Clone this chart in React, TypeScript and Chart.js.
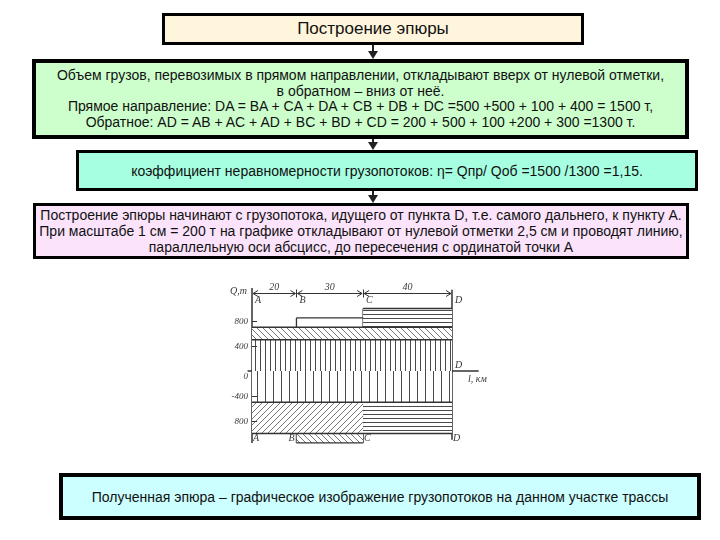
import React, { useEffect, useRef } from 'react';
import { Chart, registerables } from 'chart.js';

Chart.register(...registerables);

// ---- data (km along the route, tonnes of freight) ----
const stationNames = ['A', 'B', 'C', 'D'];
const stationKm = [0, 20, 50, 90];
const segmentLabels = ['20', '30', '40'];

// forward direction (drawn upward from zero)
const fwdFrom = [0, 0, 20, 50];
const fwdTo = [90, 90, 50, 90];
const fwdBase = [0, 500, 700, 700];
const fwdTop = [500, 700, 850, 1000];

// reverse direction (drawn downward from zero)
const revFrom = [0, 0, 50, 20];
const revTo = [90, 50, 90, 50];
const revBase = [0, -500, -500, -1000];
const revTop = [-500, -1000, -1000, -1150];

// section dividers
const dividerKm = [20, 20, 50];
const dividerFrom = [700, -500, 1000];
const dividerTo = [850, -1150, -1150];

const yTickValues = [800, 400, 0, -400, -800];
const yTickLabels = ['800', '400', '0', '-400', '800'];

// ---- styles ----
const fwdStyles = ['vU', 'dB', 'none', 'h'];
const revStyles = ['vL', 'dF', 'h', 'dB'];
const INK = '#333333';
const FONT = '"Liberation Sans", Arial, sans-serif';

function makePattern(kind: string): CanvasPattern | string {
  if (kind === 'none') return 'transparent';
  const c = document.createElement('canvas');
  let w = 6, h = 6;
  if (kind === 'vU') { w = 5; h = 4; }
  if (kind === 'vL') { w = 8; h = 4; }
  if (kind === 'h') { w = 4; h = 4; }
  c.width = w; c.height = h;
  const g = c.getContext('2d')!;
  g.fillStyle = '#ffffff';
  g.fillRect(0, 0, w, h);
  g.strokeStyle = '#4a4a4a';
  g.lineWidth = 1;
  g.beginPath();
  if (kind === 'vU' || kind === 'vL') {
    g.moveTo(0.5, 0); g.lineTo(0.5, h);
  } else if (kind === 'h') {
    g.moveTo(0, 0.5); g.lineTo(w, 0.5);
  } else if (kind === 'dF') {
    g.strokeStyle = '#777';
    g.moveTo(0, h); g.lineTo(w, 0);
    g.moveTo(-1, 1); g.lineTo(1, -1);
    g.moveTo(w - 1, h + 1); g.lineTo(w + 1, h - 1);
  } else if (kind === 'dB') {
    g.strokeStyle = '#777';
    g.moveTo(0, 0); g.lineTo(w, h);
    g.moveTo(w - 1, -1); g.lineTo(w + 1, 1);
    g.moveTo(-1, h - 1); g.lineTo(1, h + 1);
  }
  g.stroke();
  const ctx = document.createElement('canvas').getContext('2d')!;
  return ctx.createPattern(c, 'repeat')!;
}

const DIM_LEVEL = 1250;
const TOP_LABEL_LEVEL = 1130;
const BOTTOM_LABEL_LEVEL = -1075;

const decorPlugin = {
  id: 'decor',
  afterDatasetsDraw(chart: any) {
    const { ctx, scales } = chart;
    const xs = scales.x, ys = scales.y;
    const px = (v: number) => xs.getPixelForValue(v);
    const py = (v: number) => ys.getPixelForValue(v);
    ctx.save();
    ctx.strokeStyle = INK;
    ctx.fillStyle = '#3a3a3a';
    ctx.lineWidth = 1;
    // dimension line with arrows
    const yd = Math.round(py(DIM_LEVEL)) + 0.5;
    for (let i = 0; i < segmentLabels.length; i++) {
      const x0 = px(stationKm[i]) + 1;
      const x1 = px(stationKm[i + 1]) - 1;
      ctx.beginPath();
      ctx.moveTo(x0, yd); ctx.lineTo(x1, yd);
      ctx.moveTo(x0 + 5, yd - 3); ctx.lineTo(x0, yd); ctx.lineTo(x0 + 5, yd + 3);
      ctx.moveTo(x1 - 5, yd - 3); ctx.lineTo(x1, yd); ctx.lineTo(x1 - 5, yd + 3);
      ctx.stroke();
      ctx.font = 'italic 10px "Liberation Serif", serif';
      ctx.textAlign = 'center';
      ctx.textBaseline = 'bottom';
      ctx.fillText(segmentLabels[i], (x0 + x1) / 2, yd - 1);
    }
    // station ticks on the dimension line
    for (let i = 1; i < stationKm.length - 1; i++) {
      const x = Math.round(px(stationKm[i])) + 0.5;
      ctx.beginPath();
      ctx.moveTo(x, yd - 4); ctx.lineTo(x, yd + 4);
      ctx.stroke();
    }
    // station letters
    ctx.font = 'italic 10px "Liberation Serif", serif';
    ctx.textBaseline = 'middle';
    ctx.textAlign = 'left';
    stationNames.forEach((n, i) => {
      ctx.fillText(n, px(stationKm[i]) + 3, py(TOP_LABEL_LEVEL));
      ctx.fillText(n, px(stationKm[i]) + (i === 1 ? -8 : 1), py(BOTTOM_LABEL_LEVEL));
    });
    ctx.fillText('D', px(stationKm[3]) + 3, py(0) - 6);
    ctx.fillText('l, км', px(stationKm[3]) + 16, py(0) + 8);
    // y ticks
    ctx.textAlign = 'right';
    ctx.font = 'italic 9px "Liberation Serif", serif';
    yTickValues.forEach((v, i) => {
      const y = Math.round(py(v)) + 0.5;
      if (v !== 0) {
        ctx.beginPath();
        ctx.moveTo(px(0), y); ctx.lineTo(px(0) + 5, y);
        ctx.stroke();
      }
      ctx.fillText(yTickLabels[i], px(0) - 4, v === 0 ? y + 5 : y);
    });
    ctx.font = 'italic 10px "Liberation Serif", serif';
    ctx.fillText('Q,т', px(0) - 5, yd - 2);
    ctx.restore();
  },
};

function EpureChart() {
  const ref = useRef<HTMLCanvasElement>(null);
  useEffect(() => {
    if (!ref.current) return;
    const layer = (from: number, to: number, base: number, top: number, style: string) => {
      const bg = makePattern(style);
      return {
        data: [{ x: from, y: top }, { x: to, y: top }],
        borderColor: INK,
        borderWidth: 1.3,
        pointRadius: 0,
        tension: 0,
        fill: style === 'none' ? false : { value: base },
        backgroundColor: bg,
      };
    };
    const vline = (x: number, y0: number, y1: number, w = 1.3) => ({
      data: [{ x, y: y0 }, { x, y: y1 }],
      borderColor: INK,
      borderWidth: w,
      pointRadius: 0,
      fill: false,
    });
    const datasets: any[] = [];
    fwdFrom.forEach((f, i) => datasets.push(layer(f, fwdTo[i], fwdBase[i], fwdTop[i], fwdStyles[i])));
    revFrom.forEach((f, i) => datasets.push(layer(f, revTo[i], revBase[i], revTop[i], revStyles[i])));
    dividerKm.forEach((k, i) => datasets.push(vline(k, dividerFrom[i], dividerTo[i])));
    // axes at A and D
    datasets.push(vline(stationKm[0], 1330, -1150, 1.5));
    datasets.push(vline(stationKm[3], 1300, -1100, 1.5));
    // zero line
    datasets.push(vline(0, 0, 0));
    datasets[datasets.length - 1].data = [{ x: -2, y: 0 }, { x: 102, y: 0 }];

    const chart = new Chart(ref.current, {
      type: 'line',
      data: { datasets },
      options: {
        animation: false,
        responsive: false,
        maintainAspectRatio: false,
        layout: { padding: 0 },
        scales: {
          x: { type: 'linear', min: -12.15, max: 113.85, display: false },
          y: { type: 'linear', min: -1264, max: 1488, display: false },
        },
        plugins: { legend: { display: false }, tooltip: { enabled: false } },
        elements: { point: { radius: 0 } },
      },
      plugins: [decorPlugin],
    } as any);
    return () => chart.destroy();
  }, []);
  return <canvas ref={ref} width={280} height={172} style={{ width: 280, height: 172, display: 'block' }} />;
}

const boxBase: React.CSSProperties = {
  position: 'absolute',
  boxSizing: 'border-box',
  border: '3px solid #000',
  display: 'flex',
  alignItems: 'center',
  justifyContent: 'center',
  textAlign: 'center',
  fontFamily: FONT,
  fontSize: 14,
  color: '#111',
  whiteSpace: 'nowrap',
};

function Arrow({ x, y0, y1 }: { x: number; y0: number; y1: number }) {
  return (
    <svg style={{ position: 'absolute', left: x - 6, top: y0, overflow: 'visible' }} width={12} height={y1 - y0}>
      <line x1={6} y1={0} x2={6} y2={y1 - y0 - 6} stroke="#222" strokeWidth={2} />
      <polygon points={`1,${y1 - y0 - 8} 11,${y1 - y0 - 8} 6,${y1 - y0}`} fill="#222" />
    </svg>
  );
}

export default function App() {
  return (
    <div style={{ position: 'fixed', left: 0, top: 0, width: 720, height: 540, background: '#fff', overflow: 'hidden' }}>
      <div style={{ ...boxBase, left: 162, top: 13, width: 422, height: 32, background: '#FFF5DC', fontSize: 17 }}>
        Построение эпюры
      </div>
      <Arrow x={373} y0={45} y1={59} />
      <div style={{ ...boxBase, left: 32, top: 59, width: 657, height: 80, border: '4px solid #000', background: '#CCFFCC', lineHeight: '15.5px' }}>
        <div>
          Объем грузов, перевозимых в прямом направлении, откладывают вверх от нулевой отметки,<br />
          в обратном – вниз от неё.<br />
          Прямое направление: DA = BA + CA + DA + CB + DB + DC =500 +500 + 100 + 400 = 1500 т,<br />
          Обратное: AD = AB + AC + AD + BC + BD + CD = 200 + 500 + 100 +200 + 300 =1300 т.
        </div>
      </div>
      <Arrow x={373} y0={139} y1={150} />
      <div style={{ ...boxBase, left: 76, top: 150, width: 622, height: 41, background: '#A6FFE0' }}>
        коэффициент неравномерности грузопотоков: η= Qпр/ Qоб =1500 /1300 =1,15.
      </div>
      <Arrow x={373} y0={191} y1={203} />
      <div style={{ ...boxBase, left: 33, top: 203, width: 656, height: 56, background: '#FBE3FB', lineHeight: '16px' }}>
        <div>
          Построение эпюры начинают с грузопотока, идущего от пункта D, т.е. самого дальнего, к пункту А.<br />
          При масштабе 1 см = 200 т на графике откладывают от нулевой отметки 2,5 см и проводят линию,<br />
          параллельную оси абсцисс, до пересечения с ординатой точки А
        </div>
      </div>
      <div style={{ position: 'absolute', left: 225, top: 278, width: 280, height: 172 }}>
        <EpureChart />
      </div>
      <div style={{ ...boxBase, left: 59, top: 473, width: 642, height: 47, border: '4px solid #000', background: '#CCFFFF' }}>
        Полученная эпюра –  графическое изображение грузопотоков на данном участке трассы
      </div>
    </div>
  );
}
